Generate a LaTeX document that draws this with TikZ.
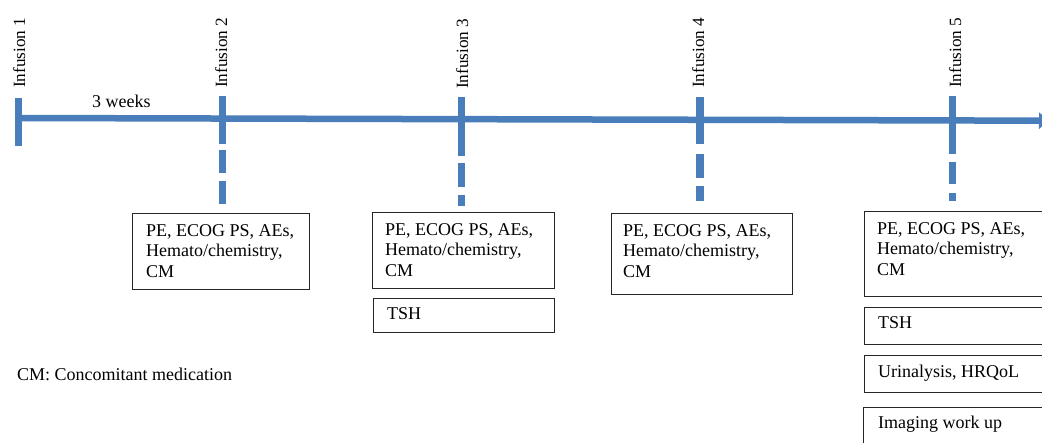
\documentclass[tikz,border=0pt]{standalone}
\usepackage{fontspec}
\setmainfont{Liberation Serif}
\newfontfamily\serf{Liberation Serif}
\usetikzlibrary{arrows.meta,calc}
\definecolor{tlblue}{HTML}{4A7EBB}
\newcommand\evfont{\serf\fontsize{18}{20.5}\selectfont}
\newcommand\inffont{\serf\fontsize{17.2}{20}\selectfont}
\begin{document}
\begin{tikzpicture}[x=1pt,y=-1pt,
  tl/.style={draw=tlblue, line width=6.5pt},
  tk/.style={draw=tlblue, line width=7.5pt},
  evbox/.style={draw=black!85, line width=0.9pt, inner sep=0pt, anchor=north west},
  evtext/.style={anchor=north west, align=left, inner sep=0pt, font=\evfont},
  evline/.style={anchor=base west, inner sep=0pt, font=\evfont},
  inflabel/.style={rotate=90, anchor=base west, inner sep=0pt, font=\inffont}]
\clip (0,0) rectangle (1042,443);
\fill[white] (0,0) rectangle (1042,443);

% timeline
\draw[tl, -{Triangle[length=10pt,width=16pt]}] (18.5,118) -- (1049,120.7);

% ticks
\draw[tk] (18.7,97.7) -- (18.7,145.7);
\draw[tk] (222.5,96) -- (222.5,144) (222.5,150) -- (222.5,172.7) (222.5,180.7) -- (222.5,204);
\draw[tk] (461.7,96.7) -- (461.7,155.7) (461.7,163.3) -- (461.7,186.7) (461.7,195) -- (461.7,206);
\draw[tk] (700,96.7) -- (700,144.3) (700,154) -- (700,178.3) (700,186) -- (700,200.7);
\draw[tk] (952.5,95.7) -- (952.5,154) (952.5,161.7) -- (952.5,184.3) (952.5,192.7) -- (952.5,200.7);

% infusion labels
\node[inflabel] (l1) at (25,88) {Infusion 1};
\node[inflabel] (l2) at (227,88) {Infusion 2};
\node[inflabel] (l3) at (468,89) {Infusion 3};
\node[inflabel] (l4) at (704,88) {Infusion 4};
\node[inflabel] (l5) at (961,88) {Infusion 5};

\node[evline] (wk) at (92,107.3) {3 weeks};

% boxes
\node[evbox, minimum width=177pt, minimum height=76pt] (b2) at (132,213) {};
\node[evbox, minimum width=182pt, minimum height=76pt] (b3) at (372,212) {};
\node[evbox, minimum width=181pt, minimum height=34.5pt] (b3t) at (373,298) {};
\node[evbox, minimum width=181pt, minimum height=81pt] (b4) at (611,213) {};
\node[evbox, minimum width=190pt, minimum height=85pt] (b5) at (864,211) {};
\node[evbox, minimum width=190pt, minimum height=37.5pt] (b5t) at (864,306.7) {};
\node[evbox, minimum width=190pt, minimum height=37pt] (b5u) at (864,355) {};
\node[evbox, minimum width=190pt, minimum height=50pt] (b5i) at (863,407) {};

% box texts
\node[evtext] (t2) at ($(b2.north west)+(14,11)$) {PE, ECOG PS, AEs,\\Hemato/chemistry,\\CM};
\node[evtext] (t3) at ($(b3.north west)+(13,11)$) {PE, ECOG PS, AEs,\\Hemato/chemistry,\\CM};
\node[evline] (t3t) at ($(b3t.north west)+(14,22)$) {TSH};
\node[evtext] (t4) at ($(b4.north west)+(12,11)$) {PE, ECOG PS, AEs,\\Hemato/chemistry,\\CM};
\node[evtext] (t5) at ($(b5.north west)+(13,11)$) {PE, ECOG PS, AEs,\\Hemato/chemistry,\\CM};
\node[evline] (t5t) at ($(b5t.north west)+(14,22.3)$) {TSH};
\node[evline] (t5u) at ($(b5u.north west)+(14,23)$) {Urinalysis,\ HRQoL};
\node[evline] (t5i) at ($(b5i.north west)+(15,22)$) {Imaging work up};

\node[evline] (cm) at (17,381) {CM: Concomitant medication};
\end{tikzpicture}
\end{document}
